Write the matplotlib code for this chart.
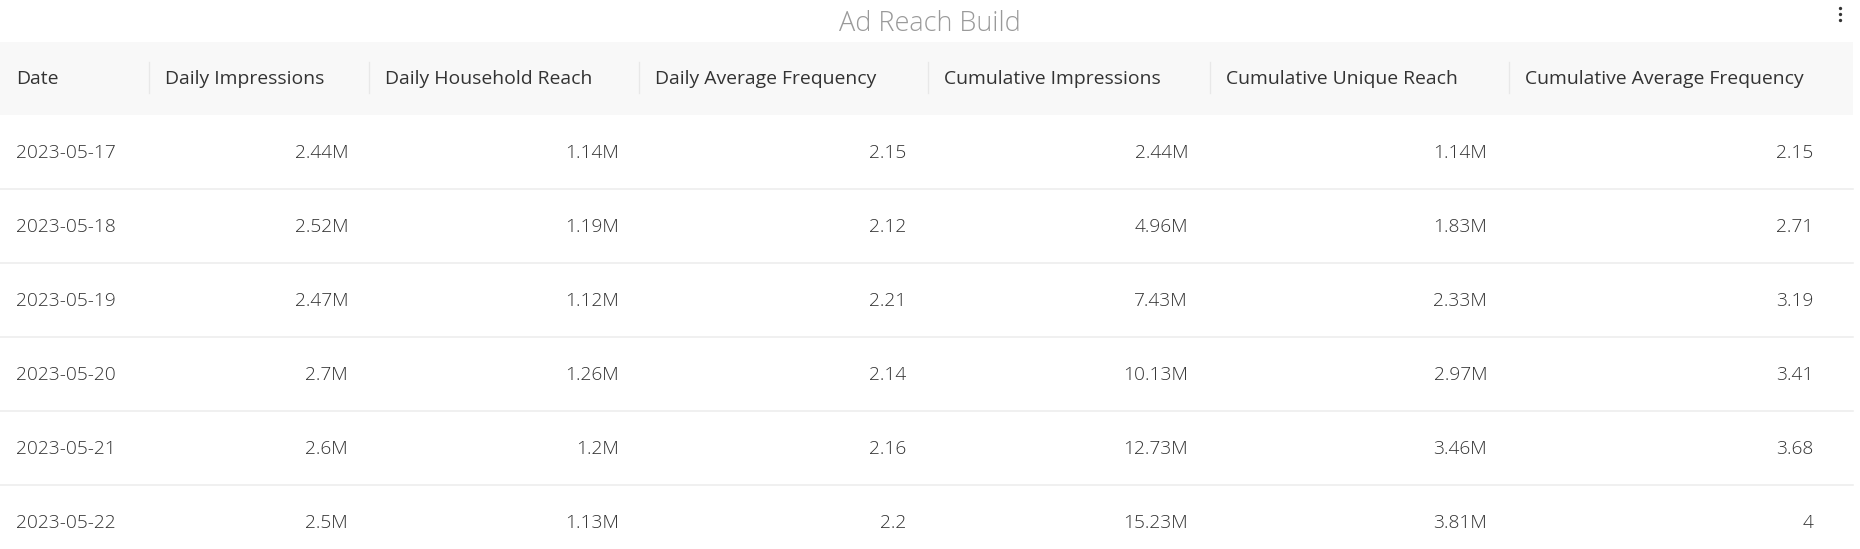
import matplotlib
matplotlib.use("Agg")
import matplotlib.pyplot as plt
from matplotlib.patches import Rectangle

title = "Ad Reach Build"
columns = ["Date", "Daily Impressions", "Daily Household Reach", "Daily Average Frequency",
           "Cumulative Impressions", "Cumulative Unique Reach", "Cumulative Average Frequency"]
dates = ["2023-05-17", "2023-05-18", "2023-05-19", "2023-05-20", "2023-05-21", "2023-05-22"]
daily_impressions_m = [2.44, 2.52, 2.47, 2.7, 2.6, 2.5]
daily_reach_m = [1.14, 1.19, 1.12, 1.26, 1.2, 1.13]
daily_frequency = [2.15, 2.12, 2.21, 2.14, 2.16, 2.2]
cum_impressions_m = [2.44, 4.96, 7.43, 10.13, 12.73, 15.23]
cum_reach_m = [1.14, 1.83, 2.33, 2.97, 3.46, 3.81]
cum_frequency = [2.15, 2.71, 3.19, 3.41, 3.68, 4]

W, H = 1860, 549
DPI = 100
fig = plt.figure(figsize=(W / DPI, H / DPI), dpi=DPI)
fig.patch.set_facecolor("white")
ax = fig.add_axes([0, 0, 1, 1])
ax.set_xlim(0, W)
ax.set_ylim(H, 0)
ax.axis("off")

def pt(px):
    return px * 72 / DPI

FONT = "Open Sans"

# layout (pixels)
col_edges = [0, 149, 369, 639, 928, 1210, 1509, 1853]
header_top, header_bot = 42, 115
row_h = 74
pad_left = 16
value_right = [None, 348, 619, 906, 1188, 1487, 1813]

# title
ax.text(W / 2, 24, title, ha="center", va="center", fontsize=pt(27), color="#9a9a9a",
        family=FONT, fontweight="light")
# kebab menu
for dy in (-6, 0, 6):
    ax.plot([1840], [14 + dy], marker="o", markersize=2.4, color="#333333", mec="none")

# header band
ax.add_patch(Rectangle((0, header_top), col_edges[-1], header_bot - header_top,
                       facecolor="#f8f8f8", edgecolor="none", zorder=0))
hy = (header_top + header_bot) / 2 + 1
for i, name in enumerate(columns):
    ax.text(col_edges[i] + pad_left, hy, name, ha="left", va="center", fontsize=pt(19.4),
            color="#333333", family=FONT)
    if i > 0:
        ax.plot([col_edges[i], col_edges[i]], [62, 93], color="#e8e8e8", lw=0.9)

def fmt_m(v):
    return f"{v:g}M"

def fmt_n(v):
    return f"{v:g}"

series = [
    [fmt_m(v) for v in daily_impressions_m],
    [fmt_m(v) for v in daily_reach_m],
    [fmt_n(v) for v in daily_frequency],
    [fmt_m(v) for v in cum_impressions_m],
    [fmt_m(v) for v in cum_reach_m],
    [fmt_n(v) for v in cum_frequency],
]

for r, d in enumerate(dates):
    top = header_bot + r * row_h
    cy = top + row_h / 2 + 1
    ax.text(col_edges[0] + pad_left, cy, d, ha="left", va="center", fontsize=pt(19.2),
            color="#333333", family=FONT, fontweight="light")
    for c, vals in enumerate(series, start=1):
        ax.text(value_right[c], cy, vals[r], ha="right", va="center", fontsize=pt(19.2),
                color="#333333", family=FONT, fontweight="light")
    ax.plot([0, col_edges[-1]], [top + row_h, top + row_h], color="#eeeeee", lw=1.2)

fig.savefig("out.png", dpi=DPI, facecolor="white")
